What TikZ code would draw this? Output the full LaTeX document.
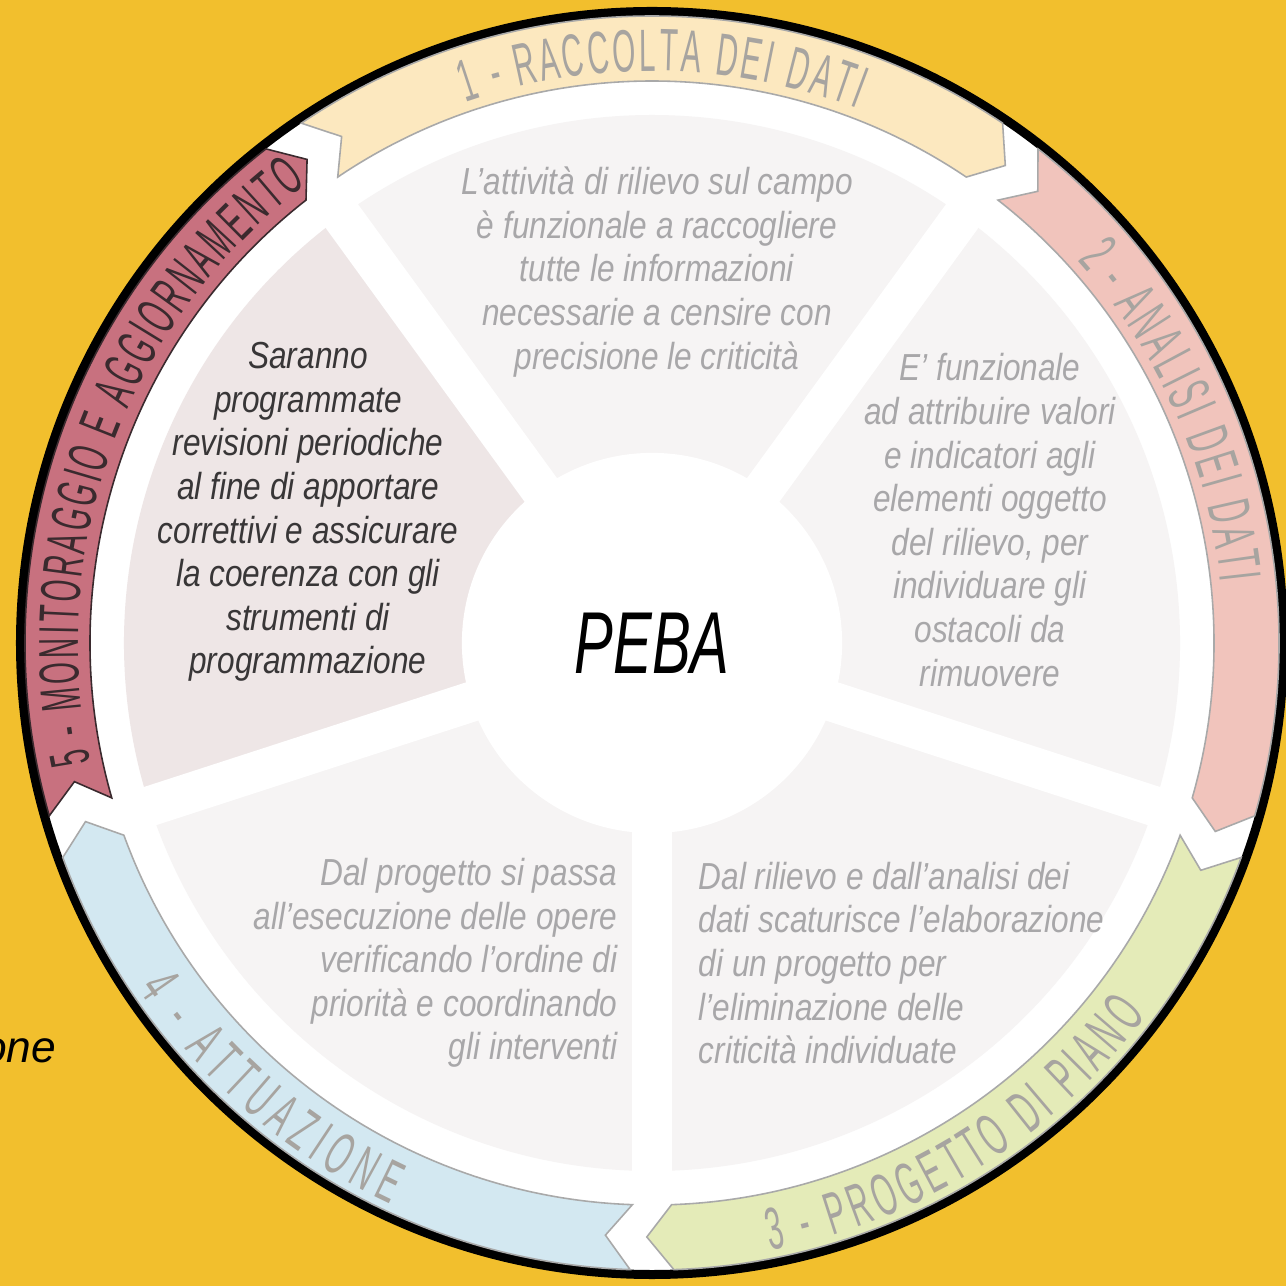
\documentclass[tikz,border=0pt]{standalone}
\usepackage{fontspec}
\usepackage{tikz}
\usetikzlibrary{decorations.text}
\setmainfont{Liberation Sans}
\newfontfamily\blurbfont{Liberation Sans}[FakeStretch=0.84]
\newfontfamily\pebafont{Liberation Sans}[FakeStretch=0.66]
\newfontfamily\ringfont{Liberation Sans}[FakeStretch=0.5]
\definecolor{bgyellow}{HTML}{F2BF2D}
\definecolor{yband}{HTML}{FCE8BF}
\definecolor{sband}{HTML}{F1C4BC}
\definecolor{gband}{HTML}{E4EBB8}
\definecolor{bband}{HTML}{D3E8F1}
\definecolor{pband}{HTML}{C8717F}
\definecolor{bandline}{HTML}{A9A9A9}
\definecolor{pinkline}{HTML}{3A2A2E}
\definecolor{secgray}{HTML}{F6F4F4}
\definecolor{secpink}{HTML}{EEE6E6}
\definecolor{blurbgray}{HTML}{A8A7A9}
\definecolor{blurbdark}{HTML}{383637}
\definecolor{ringgray}{HTML}{A7A4A0}
\tikzstyle{blurb}=[inner sep=0pt, text=blurbgray,
  font=\blurbfont\itshape\fontsize{10.7}{12.4}\selectfont]
\tikzstyle{band}=[line width=0.45pt, line join=miter]
\tikzstyle{hub}=[circle, fill=white, inner sep=0pt, minimum size=3.8cm,
  font=\pebafont\itshape\fontsize{25}{25}\selectfont]
\newcommand{\ringtext}[2]{|\ringfont\fontsize{#1}{#1}\selectfont\color{#2}|}

\begin{document}
\begin{tikzpicture}[x=0.01cm,y=0.01cm]
  \useasboundingbox (-652,-643) rectangle (634,643);
  \clip (-652,-643) rectangle (634,643);
  \fill[bgyellow] (-652,-643) rectangle (634,643);
  \draw[line width=2.56pt, fill=white] (0,0) circle[radius=631.5];
  % sectors
  \foreach \c/\col in {90/secgray, 18/secgray, -54/secgray, -126/secgray, 162/secpink}
    \fill[\col] (0,0) -- (\c+36:528) arc[start angle=\c+36, end angle=\c-36, radius=528] -- cycle;
  \foreach \a in {54,126,198,270,342}
    \draw[white, line width=11.4pt] (0,0) -- (\a:560);
  \node[hub] (peba) at (0,0) {PEBA};
  % ring arrows
  \foreach \c/\col/\edge in {90/yband/bandline, 18/sband/bandline, -54/gband/bandline,
      -126/bband/bandline, 162/pband/pinkline}
    \filldraw[band, fill=\col, draw=\edge] (\c+34:627) arc[start angle=\c+34, end angle=\c-34, radius=627]
      -- (\c-36.5:594) -- (\c-34:562) arc[start angle=\c-34, end angle=\c+34, radius=562]
      -- (\c+31.5:594) -- cycle;
  % ring labels
  \path[decorate, decoration={text along path, text align=fit to path,
    text={\ringtext{17}{ringgray}1 - RACCOLTA DEI DATI}}]
    (109:572) arc[start angle=109, end angle=69, radius=572];
  \path[decorate, decoration={text along path, text align=fit to path,
    text={\ringtext{17}{ringgray}2 - ANALISI DEI DATI}}]
    (42:572) arc[start angle=42, end angle=6, radius=572];
  \path[decorate, decoration={text along path, text align=fit to path,
    text={\ringtext{17}{ringgray}3 - PROGETTO DI PIANO}}]
    (-79:619) arc[start angle=-79, end angle=-37, radius=619];
  \path[decorate, decoration={text along path, text align=fit to path,
    text={\ringtext{17}{ringgray}4 - ATTUAZIONE}}]
    (214:619) arc[start angle=214, end angle=245, radius=619];
  \path[decorate, decoration={text along path, text align=fit to path,
    text={\ringtext{16}{pinkline}5 - MONITORAGGIO E AGGIORNAMENTO}}]
    (192:574) arc[start angle=192, end angle=127, radius=574];
  % sector texts
  \node[blurb, align=center] (raccolta) at (5,371)
    {L’attività di rilievo sul campo\\ è funzionale a raccogliere\\ tutte le informazioni\\
     necessarie a censire con\\ precisione le criticità};
  \node[blurb, align=center] (analisi) at (338,123)
    {E’ funzionale\\ ad attribuire valori\\ e indicatori agli\\ elementi oggetto\\
     del rilievo, per\\ individuare gli\\ ostacoli da\\ rimuovere};
  \node[blurb, align=left, anchor=west] (progetto) at (46,-320)
    {Dal rilievo e dall’analisi dei\\ dati scaturisce l’elaborazione\\ di un progetto per\\
     l’eliminazione delle\\ criticità individuate};
  \node[blurb, align=right, anchor=east] (attuazione) at (-34,-320)
    {Dal progetto si passa\\ all’esecuzione delle opere\\ verificando l’ordine di\\
     priorità e coordinando\\ gli interventi};
  \node[blurb, align=center, text=blurbdark] (monitoraggio) at (-344,131)
    {Saranno\\ programmate\\ revisioni periodiche\\ al fine di apportare\\
     correttivi e assicurare\\ la coerenza con gli\\ strumenti di\\ programmazione};
  \node[inner sep=0pt, anchor=base east, font=\itshape\fontsize{12.6}{14}\selectfont] (cut) at (-595,-419) {one};
\end{tikzpicture}
\end{document}
